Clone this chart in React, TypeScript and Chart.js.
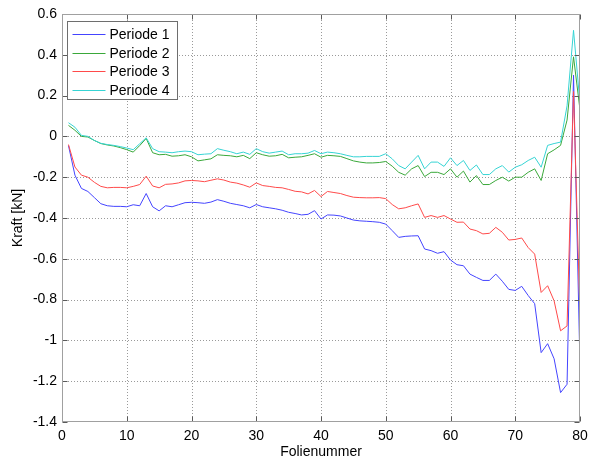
import React, { useEffect, useRef } from "react";
import { Chart, registerables } from "chart.js";

Chart.register(...registerables);

const folien = [
  1, 2, 3, 4, 5, 6, 7, 8, 9, 10, 11, 12, 13, 14, 15, 16, 17, 18, 19, 20,
  21, 22, 23, 24, 25, 26, 27, 28, 29, 30, 31, 32, 33, 34, 35, 36, 37, 38, 39, 40,
  41, 42, 43, 44, 45, 46, 47, 48, 49, 50, 51, 52, 53, 54, 55, 56, 57, 58, 59, 60,
  61, 62, 63, 64, 65, 66, 67, 68, 69, 70, 71, 72, 73, 74, 75, 76, 77, 78, 79, 80,
];

const periode1 = [
  -0.045, -0.19, -0.255, -0.27, -0.3, -0.33, -0.34, -0.343, -0.343, -0.345,
  -0.335, -0.34, -0.28, -0.345, -0.365, -0.34, -0.345, -0.335, -0.325, -0.323,
  -0.325, -0.328, -0.322, -0.31, -0.318, -0.328, -0.334, -0.34, -0.35, -0.334,
  -0.345, -0.35, -0.355, -0.362, -0.372, -0.378, -0.385, -0.382, -0.364, -0.405,
  -0.385, -0.386, -0.39, -0.4, -0.41, -0.414, -0.416, -0.418, -0.421, -0.43,
  -0.462, -0.495, -0.49, -0.488, -0.487, -0.552, -0.56, -0.573, -0.565, -0.606,
  -0.629, -0.634, -0.675, -0.691, -0.706, -0.706, -0.675, -0.71, -0.75, -0.755,
  -0.735, -0.78, -0.82, -1.06, -1.016, -1.09, -1.256, -1.215, 0.3, -1.13,
];

const periode2 = [
  0.054, 0.03, 0.0, -0.003, -0.02, -0.035, -0.042, -0.047, -0.055, -0.065,
  -0.077, -0.045, -0.01, -0.08, -0.09, -0.088, -0.097, -0.095, -0.09, -0.1,
  -0.12, -0.115, -0.11, -0.09, -0.093, -0.095, -0.1, -0.093, -0.109, -0.08,
  -0.09, -0.097, -0.095, -0.088, -0.105, -0.102, -0.1, -0.093, -0.085, -0.102,
  -0.093, -0.095, -0.098, -0.109, -0.12, -0.126, -0.13, -0.13, -0.128, -0.123,
  -0.146, -0.176, -0.19, -0.159, -0.143, -0.197, -0.176, -0.176, -0.187, -0.159,
  -0.2, -0.17, -0.224, -0.192, -0.236, -0.236, -0.216, -0.2, -0.219, -0.2,
  -0.2, -0.176, -0.159, -0.216, -0.085, -0.066, -0.044, 0.08, 0.39, 0.13,
];

const periode3 = [
  -0.04, -0.15, -0.19, -0.2, -0.225, -0.245, -0.252, -0.25, -0.25, -0.252,
  -0.245, -0.236, -0.195, -0.243, -0.252, -0.235, -0.233, -0.228, -0.218, -0.216,
  -0.218, -0.222, -0.215, -0.208, -0.214, -0.224, -0.229, -0.238, -0.249, -0.228,
  -0.241, -0.245, -0.25, -0.252, -0.26, -0.269, -0.272, -0.282, -0.265, -0.295,
  -0.27, -0.275, -0.28, -0.29, -0.298, -0.3, -0.301, -0.301, -0.3, -0.305,
  -0.334, -0.355, -0.35, -0.34, -0.331, -0.397, -0.388, -0.397, -0.388, -0.405,
  -0.421, -0.42, -0.454, -0.462, -0.478, -0.475, -0.446, -0.47, -0.508, -0.505,
  -0.498, -0.545, -0.577, -0.765, -0.732, -0.806, -0.953, -0.929, 0.22, -0.88,
];

const periode4 = [
  0.067, 0.045, 0.005, 0.0, -0.02, -0.034, -0.04, -0.044, -0.05, -0.057,
  -0.065, -0.036, -0.007, -0.06, -0.075, -0.077, -0.08, -0.075, -0.072, -0.075,
  -0.09, -0.087, -0.085, -0.06, -0.068, -0.075, -0.085, -0.077, -0.088, -0.06,
  -0.075, -0.082, -0.077, -0.072, -0.09, -0.085, -0.085, -0.082, -0.069, -0.085,
  -0.077, -0.08, -0.085, -0.093, -0.1, -0.1, -0.098, -0.098, -0.098, -0.085,
  -0.11, -0.143, -0.159, -0.126, -0.093, -0.159, -0.126, -0.126, -0.147, -0.105,
  -0.143, -0.118, -0.167, -0.14, -0.187, -0.187, -0.159, -0.143, -0.175, -0.151,
  -0.139, -0.118, -0.102, -0.151, -0.044, -0.035, -0.028, 0.15, 0.52, 0.16,
];

const seriesLabels = ["Periode 1", "Periode 2", "Periode 3", "Periode 4"];
const seriesColors = ["#4444ff", "#3aa83a", "#ff4a4a", "#36d4d4"];
const xTicks = [0, 10, 20, 30, 40, 50, 60, 70, 80];
const yTicks = [0.6, 0.4, 0.2, 0, -0.2, -0.4, -0.6, -0.8, -1, -1.2, -1.4];
const xTitle = "Folienummer";
const yTitle = "Kraft [kN]";

const FONT = '"Liberation Sans", Arial, sans-serif';

const matlabPlugin = {
  id: "matlabPlugin",
  beforeDatasetsDraw(chart: any) {
    const { ctx, chartArea } = chart;
    const xs = chart.scales.x;
    const ys = chart.scales.y;
    ctx.save();
    ctx.strokeStyle = "#9a9a9a";
    ctx.lineWidth = 1;
    ctx.setLineDash([1, 2]);
    xTicks.forEach((v) => {
      if (v === xs.min || v === xs.max) return;
      const px = Math.round(xs.getPixelForValue(v)) + 0.5;
      ctx.beginPath();
      ctx.moveTo(px, chartArea.top);
      ctx.lineTo(px, chartArea.bottom);
      ctx.stroke();
    });
    yTicks.forEach((v) => {
      if (v === ys.min || v === ys.max) return;
      const py = Math.round(ys.getPixelForValue(v)) + 0.5;
      ctx.beginPath();
      ctx.moveTo(chartArea.left, py);
      ctx.lineTo(chartArea.right, py);
      ctx.stroke();
    });
    ctx.restore();
  },
  afterDatasetsDraw(chart: any) {
    const { ctx, chartArea } = chart;
    const xs = chart.scales.x;
    const ys = chart.scales.y;
    const L = Math.round(chartArea.left) + 0.5;
    const R = Math.round(chartArea.right) - 0.5;
    const T = Math.round(chartArea.top) + 0.5;
    const B = Math.round(chartArea.bottom) - 0.5;
    ctx.save();
    ctx.strokeStyle = "#5a5a5a";
    ctx.lineWidth = 1;
    const tl = 5;
    xTicks.forEach((v) => {
      const px = Math.round(xs.getPixelForValue(v)) + 0.5;
      ctx.beginPath();
      ctx.moveTo(px, B);
      ctx.lineTo(px, B - tl);
      ctx.moveTo(px, T);
      ctx.lineTo(px, T + tl);
      ctx.stroke();
    });
    yTicks.forEach((v) => {
      const py = Math.round(ys.getPixelForValue(v)) + 0.5;
      ctx.beginPath();
      ctx.moveTo(L, py);
      ctx.lineTo(L + tl, py);
      ctx.moveTo(R, py);
      ctx.lineTo(R - tl, py);
      ctx.stroke();
    });
    ctx.strokeStyle = "#a0a0a0";
    ctx.strokeRect(L, T, R - L, B - T);

    const bx = Math.round(chartArea.left) + 5 + 0.5;
    const by = Math.round(chartArea.top) + 7 + 0.5;
    const bw = 110;
    const bh = 78;
    ctx.fillStyle = "#ffffff";
    ctx.fillRect(bx, by, bw, bh);
    ctx.strokeStyle = "#6e6e6e";
    ctx.strokeRect(bx, by, bw, bh);
    ctx.font = `14px ${FONT}`;
    ctx.textBaseline = "middle";
    ctx.textAlign = "left";
    chart.data.datasets.forEach((ds: any, i: number) => {
      const cy = Math.round(by + 12.5 + i * 18.6) + 0.5;
      ctx.strokeStyle = ds.borderColor;
      ctx.beginPath();
      ctx.moveTo(bx + 5, cy);
      ctx.lineTo(bx + 38, cy);
      ctx.stroke();
      ctx.fillStyle = "#000000";
      ctx.fillText(ds.label, bx + 42, cy + 0.5);
    });
    ctx.restore();
  },
};

export default function App() {
  const canvasRef = useRef<HTMLCanvasElement | null>(null);

  useEffect(() => {
    document.body.style.margin = "0";
    const canvas = canvasRef.current;
    if (!canvas) return;
    const allSeries = [periode1, periode2, periode3, periode4];
    const chart = new Chart(canvas, {
      type: "line",
      data: {
        datasets: allSeries.map((s, i) => ({
          label: seriesLabels[i],
          data: folien.map((x, j) => ({ x, y: s[j] })),
          borderColor: seriesColors[i],
          backgroundColor: seriesColors[i],
          borderWidth: 1,
          pointRadius: 0,
          tension: 0,
          fill: false,
          order: allSeries.length - i,
        })),
      },
      options: {
        responsive: false,
        animation: false,
        devicePixelRatio: 1,
        layout: { padding: { left: 0, top: 14, right: 9, bottom: 0 } },
        plugins: {
          legend: { display: false },
          tooltip: { enabled: false },
        },
        scales: {
          x: {
            type: "linear",
            min: 0,
            max: 80,
            afterBuildTicks: (axis: any) => {
              axis.ticks = xTicks.map((v) => ({ value: v }));
            },
            afterFit: (scale: any) => {
              scale.height = 40;
              scale.paddingLeft = 0;
              scale.paddingRight = 0;
            },
            grid: { display: false, drawTicks: false },
            border: { display: false },
            ticks: {
              color: "#000",
              font: { family: FONT, size: 14 },
              padding: 6,
              maxRotation: 0,
              autoSkip: false,
              callback: (v: any) => String(v),
            },
            title: {
              display: true,
              text: xTitle,
              color: "#000",
              font: { family: FONT, size: 14 },
              padding: { top: 0, bottom: 1 },
            },
          },
          y: {
            type: "linear",
            min: -1.4,
            max: 0.6,
            afterBuildTicks: (axis: any) => {
              axis.ticks = yTicks.map((v) => ({ value: v }));
            },
            afterFit: (scale: any) => {
              scale.width = 62;
              scale.paddingTop = 0;
              scale.paddingBottom = 0;
            },
            grid: { display: false, drawTicks: false },
            border: { display: false },
            ticks: {
              color: "#000",
              font: { family: FONT, size: 14 },
              padding: 5,
              autoSkip: false,
              callback: (v: any) => String(Number(Number(v).toFixed(1))),
            },
            title: {
              display: true,
              text: yTitle,
              color: "#000",
              font: { family: FONT, size: 14 },
              padding: { top: 10, bottom: 0 },
            },
          },
        },
      },
      plugins: [matlabPlugin],
    });
    return () => chart.destroy();
  }, []);

  return (
    <div style={{ position: "absolute", left: 0, top: 0, width: 589, height: 462, background: "#fff" }}>
      <canvas ref={canvasRef} width={589} height={462} style={{ display: "block" }} />
    </div>
  );
}
